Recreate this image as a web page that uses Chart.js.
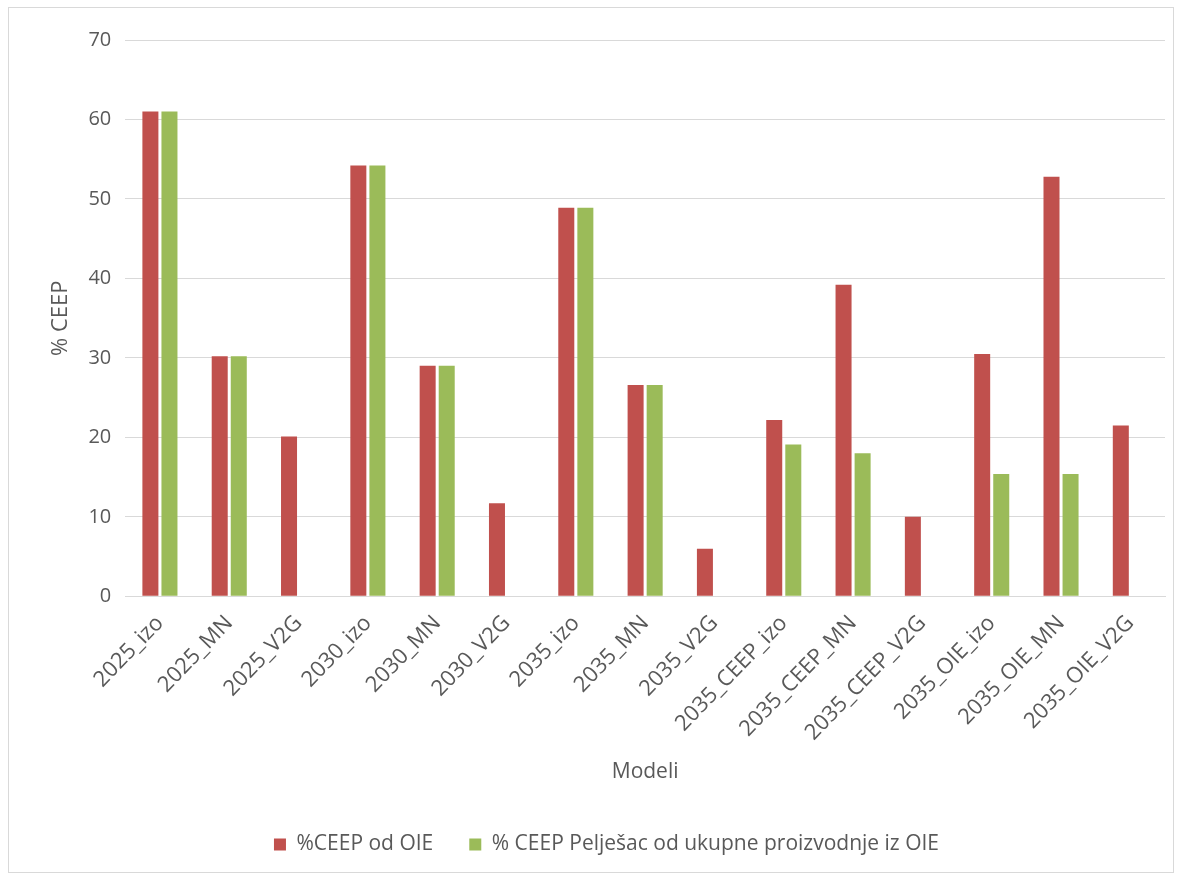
<!DOCTYPE html>
<html>
<head>
<meta charset="utf-8">
<script src="https://cdn.jsdelivr.net/npm/chart.js@4.4.1/dist/chart.umd.min.js"></script>
<style>
  html, body { margin: 0; padding: 0; background: #fff; }
  #wrap { position: absolute; left: 8px; top: 7px; width: 1166px; height: 866px; border: 1px solid #d9d9d9; box-sizing: border-box; }
  #c { position: absolute; left: 0; top: 0; }
</style>
</head>
<body>
<div id="wrap"></div>
<canvas id="c" width="1182" height="875"></canvas>
<script>
const categories = [
  "2025_izo", "2025_MN", "2025_V2G",
  "2030_izo", "2030_MN", "2030_V2G",
  "2035_izo", "2035_MN", "2035_V2G",
  "2035_CEEP_izo", "2035_CEEP_MN", "2035_CEEP_V2G",
  "2035_OIE_izo", "2035_OIE_MN", "2035_OIE_V2G"
];
const ceepOdOie = [61.0, 30.2, 20.1, 54.2, 29.0, 11.7, 48.9, 26.6, 6.0, 22.2, 39.2, 10.0, 30.5, 52.8, 21.5];
const ceepPeljesac = [61.0, 30.2, null, 54.2, 29.0, null, 48.9, 26.6, null, 19.1, 18.0, null, 15.4, 15.4, null];
const seriesNames = ["%CEEP od OIE", "% CEEP Pelješac od ukupne proizvodnje iz OIE"];

const font = "'Open Sans', sans-serif";
const textColor = "#595959";

new Chart(document.getElementById("c"), {
  type: "bar",
  data: {
    labels: categories,
    datasets: [
      { label: seriesNames[0], data: ceepOdOie, backgroundColor: "#C0504D" },
      { label: seriesNames[1], data: ceepPeljesac, backgroundColor: "#9BBB59" }
    ]
  },
  options: {
    responsive: false,
    animation: false,
    layout: { padding: { left: 48, right: 17, top: 40, bottom: 10 } },
    datasets: { bar: { categoryPercentage: 0.55, barPercentage: 0.84 } },
    scales: {
      x: {
        grid: { display: false },
        border: { color: "#d9d9d9" },
        ticks: { color: textColor, font: { family: font, size: 22 }, minRotation: 46, maxRotation: 46, autoSkip: false, padding: 6 },
        title: { display: true, text: "Modeli", color: textColor, font: { family: font, size: 21 }, padding: { top: 8, bottom: 13 } }
      },
      y: {
        min: 0, max: 70,
        ticks: { stepSize: 10, color: textColor, font: { family: font, size: 20 }, padding: 14 },
        grid: { color: "#d9d9d9", drawTicks: false },
        border: { display: false },
        title: { display: true, text: "% CEEP", color: textColor, font: { family: font, size: 22 }, padding: { top: 0, bottom: 0 } }
      }
    },
    plugins: {
      legend: {
        position: "bottom",
        labels: { color: textColor, font: { family: font, size: 21 }, boxWidth: 12, boxHeight: 12, padding: 36 }
      },
      tooltip: { enabled: false }
    }
  }
});
</script>
</body>
</html>
